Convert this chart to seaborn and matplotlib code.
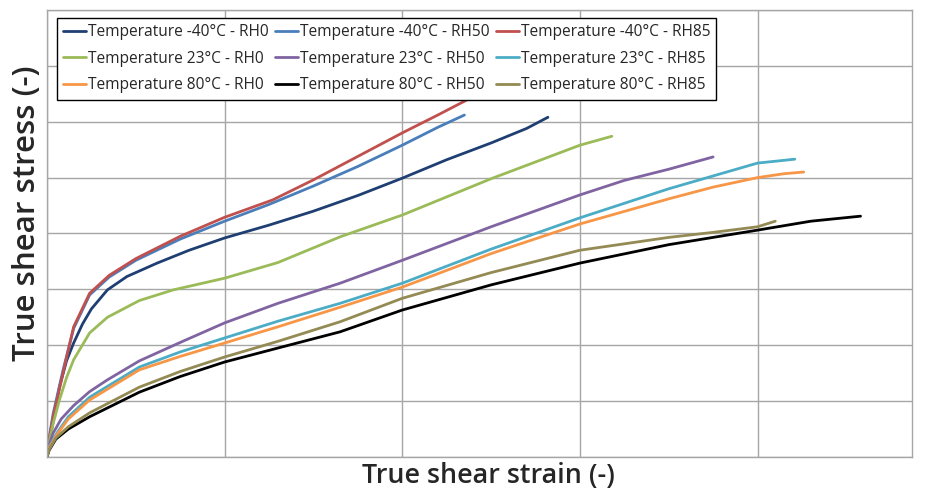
import pandas as pd
import matplotlib.pyplot as plt
import seaborn as sns

# curves (strain, stress) - arbitrary units, grid step = 1
m40_rh0_x = [0, 0.015, 0.035, 0.07, 0.11, 0.15, 0.2, 0.25, 0.34, 0.45, 0.62, 0.8, 1.0, 1.25, 1.5, 1.75, 2.0, 2.25, 2.5, 2.7, 2.82]
m40_rh0_y = [0, 0.3, 0.65, 1.25, 1.72, 2.04, 2.38, 2.65, 2.99, 3.23, 3.47, 3.7, 3.92, 4.15, 4.4, 4.68, 4.99, 5.32, 5.62, 5.88, 6.08]
m40_rh50_x = [0, 0.015, 0.035, 0.09, 0.15, 0.24, 0.35, 0.5, 0.75, 1.0, 1.25, 1.5, 1.75, 2.0, 2.2, 2.35]
m40_rh50_y = [0, 0.4, 0.78, 1.55, 2.3, 2.9, 3.22, 3.52, 3.9, 4.22, 4.52, 4.85, 5.2, 5.58, 5.9, 6.12]
m40_rh85_x = [0, 0.015, 0.035, 0.09, 0.15, 0.24, 0.35, 0.5, 0.75, 1.0, 1.27, 1.5, 1.75, 2.0, 2.2, 2.4]
m40_rh85_y = [0, 0.36, 0.72, 1.5, 2.33, 2.93, 3.25, 3.55, 3.95, 4.29, 4.6, 4.96, 5.38, 5.8, 6.12, 6.45]
t23_rh0_x = [0, 0.015, 0.035, 0.07, 0.11, 0.15, 0.24, 0.34, 0.52, 0.71, 1.0, 1.3, 1.65, 2.0, 2.5, 3.0, 3.18]
t23_rh0_y = [0, 0.3, 0.6, 1.02, 1.42, 1.74, 2.22, 2.5, 2.8, 2.99, 3.2, 3.48, 3.94, 4.33, 4.98, 5.58, 5.74]
t23_rh50_x = [0, 0.012, 0.035, 0.08, 0.15, 0.24, 0.34, 0.52, 0.75, 1.0, 1.3, 1.65, 2.0, 2.5, 3.0, 3.25, 3.5, 3.75]
t23_rh50_y = [0, 0.22, 0.43, 0.68, 0.92, 1.17, 1.38, 1.72, 2.05, 2.4, 2.75, 3.11, 3.52, 4.12, 4.69, 4.95, 5.15, 5.37]
t23_rh85_x = [0, 0.012, 0.056, 0.12, 0.24, 0.52, 0.75, 1.0, 1.3, 1.65, 2.0, 2.5, 3.0, 3.5, 3.75, 4.0, 4.21]
t23_rh85_y = [0, 0.18, 0.43, 0.72, 1.07, 1.61, 1.88, 2.13, 2.43, 2.75, 3.11, 3.72, 4.28, 4.8, 5.03, 5.26, 5.33]
t80_rh0_x = [0, 0.012, 0.056, 0.12, 0.24, 0.52, 0.75, 1.0, 1.3, 1.65, 2.0, 2.5, 3.0, 3.5, 3.75, 4.0, 4.15, 4.26]
t80_rh0_y = [0, 0.16, 0.4, 0.68, 1.02, 1.56, 1.8, 2.04, 2.33, 2.68, 3.04, 3.64, 4.17, 4.62, 4.83, 5.0, 5.07, 5.1]
t80_rh50_x = [0, 0.012, 0.05, 0.12, 0.24, 0.52, 0.75, 1.0, 1.3, 1.65, 2.0, 2.5, 3.0, 3.5, 4.0, 4.3, 4.58]
t80_rh50_y = [0, 0.12, 0.32, 0.5, 0.72, 1.16, 1.44, 1.7, 1.95, 2.24, 2.63, 3.08, 3.47, 3.8, 4.06, 4.22, 4.31]
t80_rh85_x = [0, 0.012, 0.05, 0.12, 0.24, 0.52, 0.75, 1.0, 1.3, 1.65, 2.0, 2.5, 3.0, 3.5, 3.75, 4.0, 4.1]
t80_rh85_y = [0, 0.13, 0.34, 0.54, 0.79, 1.25, 1.53, 1.79, 2.07, 2.42, 2.84, 3.3, 3.7, 3.93, 4.02, 4.12, 4.22]

series = [
    ('Temperature -40°C - RH0', m40_rh0_x, m40_rh0_y, '#1f3f73'),
    ('Temperature -40°C - RH50', m40_rh50_x, m40_rh50_y, '#4a7ebb'),
    ('Temperature -40°C - RH85', m40_rh85_x, m40_rh85_y, '#c0504d'),
    ('Temperature 23°C - RH0', t23_rh0_x, t23_rh0_y, '#9bbb59'),
    ('Temperature 23°C - RH50', t23_rh50_x, t23_rh50_y, '#8064a2'),
    ('Temperature 23°C - RH85', t23_rh85_x, t23_rh85_y, '#4bacc6'),
    ('Temperature 80°C - RH0', t80_rh0_x, t80_rh0_y, '#f79646'),
    ('Temperature 80°C - RH50', t80_rh50_x, t80_rh50_y, '#000000'),
    ('Temperature 80°C - RH85', t80_rh85_x, t80_rh85_y, '#948a54'),
]

sns.set_style('white')
plt.rcParams['font.family'] = ['Open Sans', 'DejaVu Sans']

fig = plt.figure(figsize=(9.25, 4.95), dpi=100)
ax = fig.add_axes([0.0508, 0.0768, 0.9352, 0.9030])

handles = {}
for name, xs, ys, col in series:
    df = pd.DataFrame({'x': xs, 'y': ys})
    sns.lineplot(data=df, x='x', y='y', ax=ax, color=col, lw=2.0,
                 sort=False, estimator=None, label=name)
    handles[name] = ax.lines[-1]

ax.set_xlim(0, 4.87)
ax.set_ylim(0, 8)
ax.set_xticks([0, 1, 2, 3, 4])
ax.set_yticks(range(9))
ax.grid(True, color='#a6a6a6', lw=1)
ax.tick_params(left=False, bottom=False, labelleft=False, labelbottom=False)
for s in ax.spines.values():
    s.set_color('#a6a6a6')
    s.set_linewidth(1)

# legend fills row by row in the picture, matplotlib fills by column
names = [s[0] for s in series]
order = [names[i] for i in (0, 3, 6, 1, 4, 7, 2, 5, 8)]
leg = ax.legend([handles[n] for n in order], order, ncol=3,
                loc='upper left', bbox_to_anchor=(0.0115, 0.982),
                fontsize=11.2, frameon=True, fancybox=False,
                edgecolor='black', framealpha=1, handlelength=1.5,
                handletextpad=0.1, columnspacing=0.4, labelspacing=0.68,
                borderpad=0.4, borderaxespad=0)
leg.get_frame().set_linewidth(1)

ax.set_xlabel('True shear strain (-)', fontsize=19.4, fontweight='semibold')
ax.set_ylabel('True shear stress (-)', fontsize=22.5, fontweight='semibold')
ax.xaxis.set_label_coords(0.51, -0.012)
ax.yaxis.set_label_coords(-0.006, 0.545)

fig.savefig('out.png', dpi=100)
